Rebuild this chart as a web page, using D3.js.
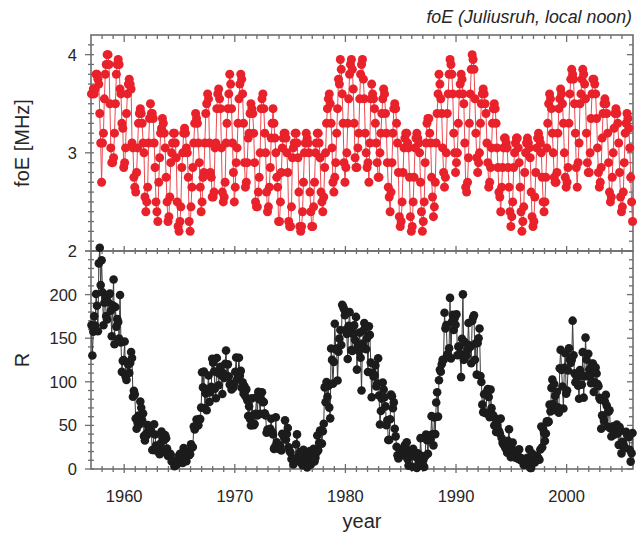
<!DOCTYPE html>
<html><head><meta charset="utf-8">
<script src="https://cdn.jsdelivr.net/npm/d3@7"></script>
<style>
html,body{margin:0;padding:0;background:#fff;}
svg{display:block;font-family:"Liberation Sans",Arial,Helvetica,sans-serif;}
</style></head>
<body>
<svg id="chart" width="637" height="538"></svg>
<script>
// ---- data (monthly values, Jan 1957 .. Dec 2005) ----
const startYear = 1957;
const xTickYears = [1960, 1970, 1980, 1990, 2000];
const foeTicks = [2, 3, 4];
const rTicks = [0, 50, 100, 150, 200];

// foE at noon (MHz), one row per year, Jan..Dec
const foE = [
/*1957*/3.6,3.6,3.65,3.6,3.65,3.8,3.8,3.75,3.7,3.4,3.1,2.7,
/*1958*/3.1,3.2,3.55,3.8,3.9,4.0,4.0,3.9,3.5,3.05,2.9,2.9,
/*1959*/2.95,3.2,3.5,3.8,3.9,3.95,3.9,3.65,3.6,3.3,3.25,2.85,
/*1960*/2.9,3.05,3.4,3.6,3.7,3.75,3.7,3.65,3.1,3.05,2.75,2.65,
/*1961*/2.6,2.8,3.05,3.3,3.4,3.45,3.4,3.3,3.1,3.0,2.55,2.4,
/*1962*/2.5,2.65,3.1,3.35,3.5,3.4,3.4,3.35,3.1,2.85,2.5,2.4,
/*1963*/2.3,2.7,2.95,3.2,3.25,3.35,3.3,3.2,3.05,2.75,2.5,2.3,
/*1964*/2.35,2.55,2.9,3.0,3.1,3.2,3.2,3.1,2.95,2.5,2.25,2.2,
/*1965*/2.3,2.45,2.85,3.0,3.2,3.25,3.2,3.05,3.0,2.75,2.3,2.2,
/*1966*/2.45,2.65,2.85,3.1,3.3,3.4,3.35,3.3,3.1,2.9,2.65,2.4,
/*1967*/2.5,2.75,2.8,3.1,3.4,3.5,3.6,3.55,3.1,2.8,2.75,2.55,
/*1968*/2.55,2.6,3.05,3.1,3.45,3.6,3.65,3.55,3.45,3.05,2.6,2.5,
/*1969*/2.55,2.7,3.1,3.3,3.45,3.6,3.8,3.7,3.45,3.1,2.8,2.5,
/*1970*/2.65,2.9,3.05,3.3,3.55,3.7,3.8,3.75,3.6,3.3,2.9,2.65,
/*1971*/2.7,2.9,3.15,3.2,3.4,3.5,3.45,3.4,3.2,2.9,2.5,2.45,
/*1972*/2.45,2.6,2.75,3.0,3.45,3.55,3.6,3.45,3.2,3.0,2.6,2.4,
/*1973*/2.45,2.65,2.85,3.15,3.3,3.45,3.3,3.15,3.0,2.75,2.65,2.3,
/*1974*/2.3,2.5,2.8,3.05,3.15,3.2,3.2,3.15,3.0,2.8,2.3,2.25,
/*1975*/2.25,2.45,2.95,3.05,3.1,3.2,3.2,3.1,2.95,2.6,2.25,2.2,
/*1976*/2.25,2.4,2.7,3.0,3.1,3.2,3.15,3.1,3.0,2.6,2.4,2.25,
/*1977*/2.25,2.45,2.7,3.0,3.1,3.2,3.2,3.1,2.95,2.6,2.5,2.4,
/*1978*/2.55,2.85,3.0,3.3,3.45,3.55,3.6,3.5,3.3,3.05,2.7,2.6,
/*1979*/2.75,2.9,3.2,3.45,3.75,3.7,3.95,3.85,3.6,3.3,2.9,2.7,
/*1980*/2.85,3.0,3.3,3.55,3.8,3.9,3.95,3.85,3.65,3.3,2.95,2.85,
/*1981*/2.85,3.05,3.2,3.55,3.8,3.9,3.95,3.75,3.55,3.2,3.0,2.85,
/*1982*/2.9,2.7,3.1,3.55,3.7,3.6,3.55,3.45,3.3,3.1,2.9,2.75,
/*1983*/2.75,3.0,3.2,3.4,3.55,3.65,3.6,3.4,3.2,2.9,2.65,2.55,
/*1984*/2.4,2.6,2.9,3.2,3.45,3.5,3.45,3.3,3.1,2.8,2.35,2.25,
/*1985*/2.3,2.5,2.8,3.05,3.15,3.2,3.2,3.1,3.05,2.75,2.35,2.2,
/*1986*/2.25,2.5,2.75,3.05,3.15,3.2,3.15,3.1,3.0,2.7,2.4,2.2,
/*1987*/2.3,2.5,2.9,3.1,3.3,3.35,3.35,3.2,3.1,2.75,2.55,2.35,
/*1988*/2.45,2.7,3.1,3.4,3.6,3.8,3.7,3.55,3.4,3.05,2.8,2.65,
/*1989*/2.75,3.0,3.4,3.6,3.8,3.95,3.9,3.8,3.6,3.2,3.0,2.8,
/*1990*/2.9,3.0,3.3,3.6,3.7,3.8,3.75,3.6,3.5,3.1,2.65,2.6,
/*1991*/2.7,2.95,3.3,3.6,3.85,4.0,3.95,3.85,3.55,3.2,2.95,2.8,
/*1992*/2.9,3.0,3.3,3.5,3.6,3.65,3.6,3.5,3.4,3.1,2.9,2.65,
/*1993*/2.7,2.85,3.05,3.3,3.45,3.5,3.45,3.3,3.05,2.85,2.6,2.55,
/*1994*/2.4,2.65,2.85,3.05,3.15,3.15,3.1,3.05,2.85,2.65,2.4,2.25,
/*1995*/2.35,2.5,2.85,3.0,3.1,3.15,3.15,3.05,2.9,2.65,2.4,2.2,
/*1996*/2.3,2.45,2.8,3.0,3.1,3.15,3.1,3.05,2.95,2.6,2.35,2.25,
/*1997*/2.3,2.55,2.8,3.05,3.15,3.2,3.15,3.1,3.0,2.75,2.5,2.4,
/*1998*/2.5,2.75,3.05,3.3,3.5,3.6,3.55,3.45,3.2,3.0,2.75,2.7,
/*1999*/2.7,2.8,3.2,3.45,3.55,3.65,3.6,3.5,3.3,3.0,2.75,2.65,
/*2000*/2.7,2.85,3.3,3.6,3.75,3.85,3.8,3.75,3.5,3.2,2.85,2.65,
/*2001*/2.9,3.1,3.5,3.6,3.75,3.85,3.8,3.7,3.55,3.2,2.9,2.8,
/*2002*/2.8,3.0,3.35,3.6,3.75,3.75,3.7,3.6,3.35,3.05,2.8,2.65,
/*2003*/2.7,2.85,3.15,3.4,3.5,3.55,3.5,3.4,3.2,2.9,2.6,2.5,
/*2004*/2.55,2.75,3.0,3.25,3.4,3.45,3.4,3.3,3.1,2.8,2.55,2.4,
/*2005*/2.45,2.6,2.9,3.2,3.3,3.4,3.35,3.25,3.05,2.75,2.5,2.3
];

// monthly sunspot number R, one row per year, Jan..Dec
const sunspotR = [
/*1957*/165.0,130.2,157.4,175.2,164.6,200.7,187.2,158.0,235.8,253.8,210.9,239.4,
/*1958*/202.5,164.9,190.7,196.0,175.3,171.5,191.4,200.2,201.2,181.5,152.3,187.6,
/*1959*/217.4,143.1,185.7,163.3,172.0,168.7,149.6,199.6,145.2,111.4,124.0,125.0,
/*1960*/146.3,106.0,102.2,122.0,119.6,110.2,121.7,134.1,127.2,82.8,89.6,85.6,
/*1961*/57.9,46.1,53.0,61.4,51.0,77.4,70.2,55.8,63.6,37.7,32.6,40.0,
/*1962*/38.7,50.3,45.6,46.4,43.7,42.0,21.8,21.8,51.3,39.5,26.9,23.2,
/*1963*/19.8,24.4,17.1,29.3,43.0,35.9,19.6,33.2,38.8,35.3,23.4,14.9,
/*1964*/15.3,17.7,16.5,8.6,9.5,9.1,3.1,9.3,4.7,6.1,7.4,15.1,
/*1965*/17.5,14.2,11.7,6.8,24.1,15.9,11.9,8.9,16.8,20.1,15.8,17.0,
/*1966*/28.2,24.4,25.3,48.7,45.3,47.7,56.7,51.2,50.2,57.2,57.2,70.4,
/*1967*/110.9,93.6,111.8,69.5,86.5,67.3,91.5,107.2,76.8,88.2,94.3,126.4,
/*1968*/121.8,111.9,92.2,81.2,127.2,110.3,96.1,109.3,117.2,107.7,86.0,109.8,
/*1969*/104.4,120.5,135.8,106.8,120.0,106.0,96.8,98.0,91.3,95.7,93.5,97.9,
/*1970*/111.5,127.8,102.9,109.5,127.5,106.8,112.5,93.0,99.5,86.6,95.2,83.5,
/*1971*/91.3,79.0,60.7,71.8,57.5,49.8,81.0,61.4,50.2,51.7,63.2,82.2,
/*1972*/61.5,88.4,80.1,63.2,80.5,88.0,76.5,76.8,64.0,61.3,41.6,45.3,
/*1973*/43.4,42.9,46.0,57.7,42.4,39.5,23.1,25.6,59.3,30.7,23.9,23.3,
/*1974*/27.6,26.0,21.3,40.3,39.5,36.0,55.8,33.6,40.2,47.1,25.0,20.5,
/*1975*/18.9,11.5,11.5,5.1,9.0,11.4,28.2,39.7,13.9,9.1,19.4,7.8,
/*1976*/8.1,4.3,21.9,18.8,12.4,12.2,1.9,16.4,13.5,20.6,5.2,15.3,
/*1977*/16.4,23.1,8.7,12.9,18.6,38.5,21.4,30.1,44.0,43.8,29.1,43.2,
/*1978*/51.9,93.6,76.5,99.7,82.7,95.1,70.4,58.1,138.2,125.1,97.9,122.7,
/*1979*/166.6,137.5,138.0,101.5,134.4,149.5,159.4,142.2,188.4,186.2,183.3,176.3,
/*1980*/159.6,155.0,126.2,164.1,179.9,157.3,136.3,135.4,155.0,164.7,147.9,174.4,
/*1981*/114.0,141.3,135.5,156.4,127.5,90.0,143.8,158.7,167.3,162.4,137.5,150.1,
/*1982*/111.2,163.6,153.8,122.0,82.2,110.4,106.1,107.6,118.8,94.7,98.1,127.0,
/*1983*/84.3,51.0,66.5,80.7,99.2,91.1,82.2,71.8,50.3,55.8,33.3,33.4,
/*1984*/57.0,85.4,83.5,69.7,76.4,46.1,37.4,25.5,15.7,12.0,22.8,18.7,
/*1985*/16.5,15.9,17.2,16.2,27.5,24.2,30.7,11.1,3.9,18.6,16.2,17.3,
/*1986*/2.5,23.2,15.1,18.5,13.7,1.1,18.1,7.4,3.8,35.4,15.2,6.8,
/*1987*/10.4,2.4,14.7,39.6,33.0,17.4,33.0,38.7,33.9,60.6,39.9,27.1,
/*1988*/59.0,40.0,76.2,88.0,60.1,101.8,113.8,111.6,120.1,125.1,125.1,179.2,
/*1989*/161.3,165.1,131.4,130.6,138.5,196.2,126.9,168.9,176.7,159.4,173.0,165.5,
/*1990*/177.3,130.5,140.3,140.3,132.2,105.4,149.4,200.3,125.2,145.5,131.4,129.7,
/*1991*/136.9,167.5,141.9,140.0,121.3,169.7,173.7,176.3,125.3,144.1,108.2,144.4,
/*1992*/150.0,161.1,106.7,99.8,73.8,65.2,85.7,64.5,63.9,88.7,91.8,82.6,
/*1993*/59.3,91.0,69.8,62.2,61.3,49.8,57.9,42.4,50.2,56.6,43.7,40.9,
/*1994*/57.8,35.6,30.0,28.5,26.6,24.4,22.6,18.6,32.2,45.5,22.5,13.4,
/*1995*/24.1,30.4,20.4,14.9,12.9,16.6,15.3,11.4,22.5,13.0,9.8,10.9,
/*1996*/11.6,4.6,7.7,6.3,6.2,12.9,7.4,22.5,1.2,1.1,17.7,10.0,
/*1997*/7.7,7.5,10.6,15.2,13.6,12.0,10.7,22.3,48.7,25.0,45.8,41.3,
/*1998*/32.2,40.7,54.6,53.5,54.3,73.8,66.1,93.0,102.5,74.6,97.5,83.7,
/*1999*/67.4,88.5,70.9,64.6,115.6,136.6,113.7,94.6,69.4,116.0,132.8,86.3,
/*2000*/90.1,112.9,138.5,125.5,121.6,124.9,170.1,130.5,109.7,99.4,106.8,104.4,
/*2001*/95.6,80.6,113.5,107.7,96.6,134.0,81.8,106.4,150.7,125.5,106.5,132.2,
/*2002*/114.1,107.4,98.4,120.7,120.8,88.3,99.6,116.4,109.6,97.5,95.0,81.6,
/*2003*/79.5,46.2,61.5,60.0,55.2,77.4,85.0,72.7,48.8,65.6,67.3,46.5,
/*2004*/37.3,45.8,49.1,39.3,41.5,43.2,51.1,40.9,27.7,48.0,43.5,17.9,
/*2005*/31.3,29.2,24.5,24.2,42.7,39.3,40.1,36.4,22.1,8.5,18.0,41.2
];

// ---- layout ----
const L = 91, R = 633, T = 35, MID = 251, B = 469;
const svg = d3.select("#chart");
const x = d3.scaleLinear().domain([1957, 2006]).range([L, R]);
const yF = d3.scaleLinear().domain([2, 4.2]).range([MID, T]);
const yR = d3.scaleLinear().domain([0, 250]).range([B, MID]);

const tOf = i => startYear + (i + 0.5) / 12;
const foeData = foE.map((v, i) => ({t: tOf(i), v}));
const rData = sunspotR.map((v, i) => ({t: tOf(i), v}));

const frameColor = "#6e6e6e";
const textColor = "#262626";

// frames
svg.append("rect").attr("x", L).attr("y", T).attr("width", R - L).attr("height", MID - T)
  .attr("fill", "none").attr("stroke", frameColor).attr("stroke-width", 1.6);
svg.append("rect").attr("x", L).attr("y", MID).attr("width", R - L).attr("height", B - MID)
  .attr("fill", "none").attr("stroke", frameColor).attr("stroke-width", 1.6);

// tick helper
function ticks(g, vals, pos, orient, inner, outer) {
  vals.forEach(v => {
    const p = pos(v);
    let x1, y1, x2, y2;
    if (orient === "left")   { x1 = L - outer; x2 = L + inner; y1 = y2 = p; }
    if (orient === "right")  { x1 = R + outer; x2 = R - inner; y1 = y2 = p; }
    if (orient === "top")    { y1 = g.top - outer; y2 = g.top + inner; x1 = x2 = p; }
    if (orient === "bottom") { y1 = g.bottom + outer; y2 = g.bottom - inner; x1 = x2 = p; }
    svg.append("line").attr("x1", x1).attr("y1", y1).attr("x2", x2).attr("y2", y2)
      .attr("stroke", frameColor).attr("stroke-width", 1.3);
  });
}
const minorYears = d3.range(1958, 2006).filter(y => y % 10 !== 0);
// top panel ticks
const fMinor = d3.range(21, 42).map(d => d / 10).filter(v => Math.abs(v - Math.round(v)) > 1e-6);
ticks({}, foeTicks, yF, "left", 3, 6);
ticks({}, fMinor, yF, "left", 3, 3);
ticks({}, foeTicks, yF, "right", 6, 0);
ticks({}, fMinor, yF, "right", 4, 0);
ticks({top: T}, xTickYears, x, "top", 7, 0);
ticks({top: T}, minorYears, x, "top", 4, 0);
ticks({bottom: MID}, xTickYears, x, "bottom", 5, 3);
ticks({bottom: MID}, minorYears, x, "bottom", 3, 3);
// bottom panel ticks
const rMinor = d3.range(10, 250, 10).filter(v => v % 50 !== 0);
ticks({}, rTicks.concat([250]), yR, "left", 3, 6);
ticks({}, rMinor, yR, "left", 3, 3);
ticks({}, rTicks, yR, "right", 6, 0);
ticks({}, rMinor, yR, "right", 4, 0);
ticks({bottom: B}, xTickYears, x, "bottom", 5, 4);
ticks({bottom: B}, minorYears, x, "bottom", 3, 3);

// tick labels
const lab = svg.append("g").attr("fill", textColor).attr("font-size", 16.5);
foeTicks.forEach(v => lab.append("text").attr("x", L - 14).attr("y", yF(v)).attr("dy", "0.36em")
  .attr("text-anchor", "end").text(v));
rTicks.forEach(v => lab.append("text").attr("x", L - 14).attr("y", yR(v)).attr("dy", "0.36em")
  .attr("text-anchor", "end").text(v));
xTickYears.forEach(v => lab.append("text").attr("x", x(v)).attr("y", 502)
  .attr("text-anchor", "middle").text(v));

// axis titles
svg.append("text").attr("transform", `translate(29,${(T + MID) / 2}) rotate(-90)`)
  .attr("text-anchor", "middle").attr("font-size", 20).attr("fill", textColor).text("foE [MHz]");
svg.append("text").attr("transform", `translate(29,${(MID + B) / 2}) rotate(-90)`)
  .attr("text-anchor", "middle").attr("font-size", 20).attr("fill", textColor).text("R");
svg.append("text").attr("x", (L + R) / 2).attr("y", 528)
  .attr("text-anchor", "middle").attr("font-size", 20).attr("fill", textColor).text("year");
svg.append("text").attr("x", 632).attr("y", 23).attr("text-anchor", "end")
  .attr("font-size", 17.8).attr("font-style", "italic").attr("fill", textColor)
  .text("foE (Juliusruh, local noon)");

// series
const lineF = d3.line().x(d => x(d.t)).y(d => yF(d.v));
const lineR = d3.line().x(d => x(d.t)).y(d => yR(d.v));
svg.append("path").datum(foeData).attr("d", lineF).attr("fill", "none")
  .attr("stroke", "#ec4a50").attr("stroke-width", 1);
svg.append("g").selectAll("circle").data(foeData).join("circle")
  .attr("cx", d => x(d.t)).attr("cy", d => yF(d.v)).attr("r", 4.5).attr("fill", "#e8212b");
svg.append("path").datum(rData).attr("d", lineR).attr("fill", "none")
  .attr("stroke", "#3a3a3a").attr("stroke-width", 1);
svg.append("g").selectAll("circle").data(rData).join("circle")
  .attr("cx", d => x(d.t)).attr("cy", d => yR(d.v)).attr("r", 4.3).attr("fill", "#1c1c1c");
</script>
</body></html>
